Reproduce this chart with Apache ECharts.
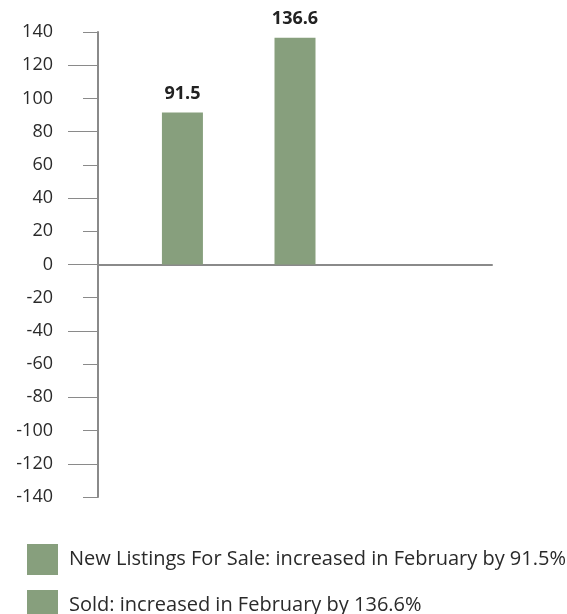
<!DOCTYPE html>
<html>
<head>
<meta charset="utf-8">
<script src="https://cdn.jsdelivr.net/npm/echarts@6/dist/echarts.min.js"></script>
<style>html,body{margin:0;padding:0;background:#fff}#c{width:567px;height:614px}</style>
</head>
<body>
<div id="c"></div>
<script>
var categories = ['', 'New Listings For Sale', '', 'Sold', '', '', ''];
var seriesNames = ['New Listings For Sale: increased in February by 91.5%', 'Sold: increased in February by 136.6%'];
var newListings = [null, 91.5, null, null, null, null, null];
var sold = [null, null, null, 136.6, null, null, null];
var yMin = -140, yMax = 140, yStep = 20;
var longTickMin = -120, longTickMax = 120, longTickStep = 40;

var green = '#879f7d';
var axisGray = '#8a8a8a';
var font = 'Open Sans';

var gridTop = 32, gridBottom = 117, gridH = 614 - gridTop - gridBottom;
var pxPerUnit = gridH / (yMax - yMin);

function legendFor(name, top) {
  return {
    orient: 'vertical', left: 22, top: top,
    itemWidth: 31, itemHeight: 31,
    icon: 'rect',
    textStyle: { fontFamily: font, fontSize: 20, color: '#2a2a2a', padding: [0, 0, 0, 6] },
    data: [name]
  };
}

var chart = echarts.init(document.getElementById('c'));
chart.setOption({
  animation: false,
  grid: [
    { left: 98, right: 75, top: gridTop, bottom: gridBottom },
    { left: 98, right: 75,
      top: gridTop + (yMax - longTickMax) * pxPerUnit,
      bottom: gridBottom + (longTickMin - yMin) * pxPerUnit }
  ],
  legend: [legendFor(seriesNames[0], 539), legendFor(seriesNames[1], 585)],
  xAxis: [
    {
      type: 'category', data: categories, gridIndex: 0,
      axisLine: { show: true, onZero: true, lineStyle: { color: axisGray, width: 2 } },
      axisTick: { show: false }, axisLabel: { show: false }, splitLine: { show: false }
    },
    {
      type: 'category', data: categories, gridIndex: 1,
      axisLine: { show: false }, axisTick: { show: false }, axisLabel: { show: false }, splitLine: { show: false }
    }
  ],
  yAxis: [
    {
      type: 'value', gridIndex: 0, min: yMin, max: yMax, interval: yStep,
      axisLine: { show: true, lineStyle: { color: axisGray, width: 2 } },
      axisTick: { show: true, length: 15, lineStyle: { color: axisGray, width: 1 } },
      axisLabel: { show: true, margin: 45, fontFamily: font, fontSize: 18, color: '#2a2a2a' },
      splitLine: { show: false }
    },
    {
      type: 'value', gridIndex: 1, min: longTickMin, max: longTickMax, interval: longTickStep,
      axisLine: { show: false, onZero: false },
      axisTick: { show: true, length: 30, lineStyle: { color: axisGray, width: 1 } },
      axisLabel: { show: false }, splitLine: { show: false }
    }
  ],
  series: [
    {
      name: seriesNames[0], type: 'bar', data: newListings, barWidth: 41, barGap: '-100%',
      itemStyle: { color: green },
      label: { show: true, position: 'top', distance: 10, fontFamily: font, fontSize: 18, fontWeight: 'bold', color: '#222' }
    },
    {
      name: seriesNames[1], type: 'bar', data: sold, barWidth: 41, barGap: '-100%',
      itemStyle: { color: green },
      label: { show: true, position: 'top', distance: 10, fontFamily: font, fontSize: 18, fontWeight: 'bold', color: '#222' }
    }
  ]
});
</script>
</body>
</html>
